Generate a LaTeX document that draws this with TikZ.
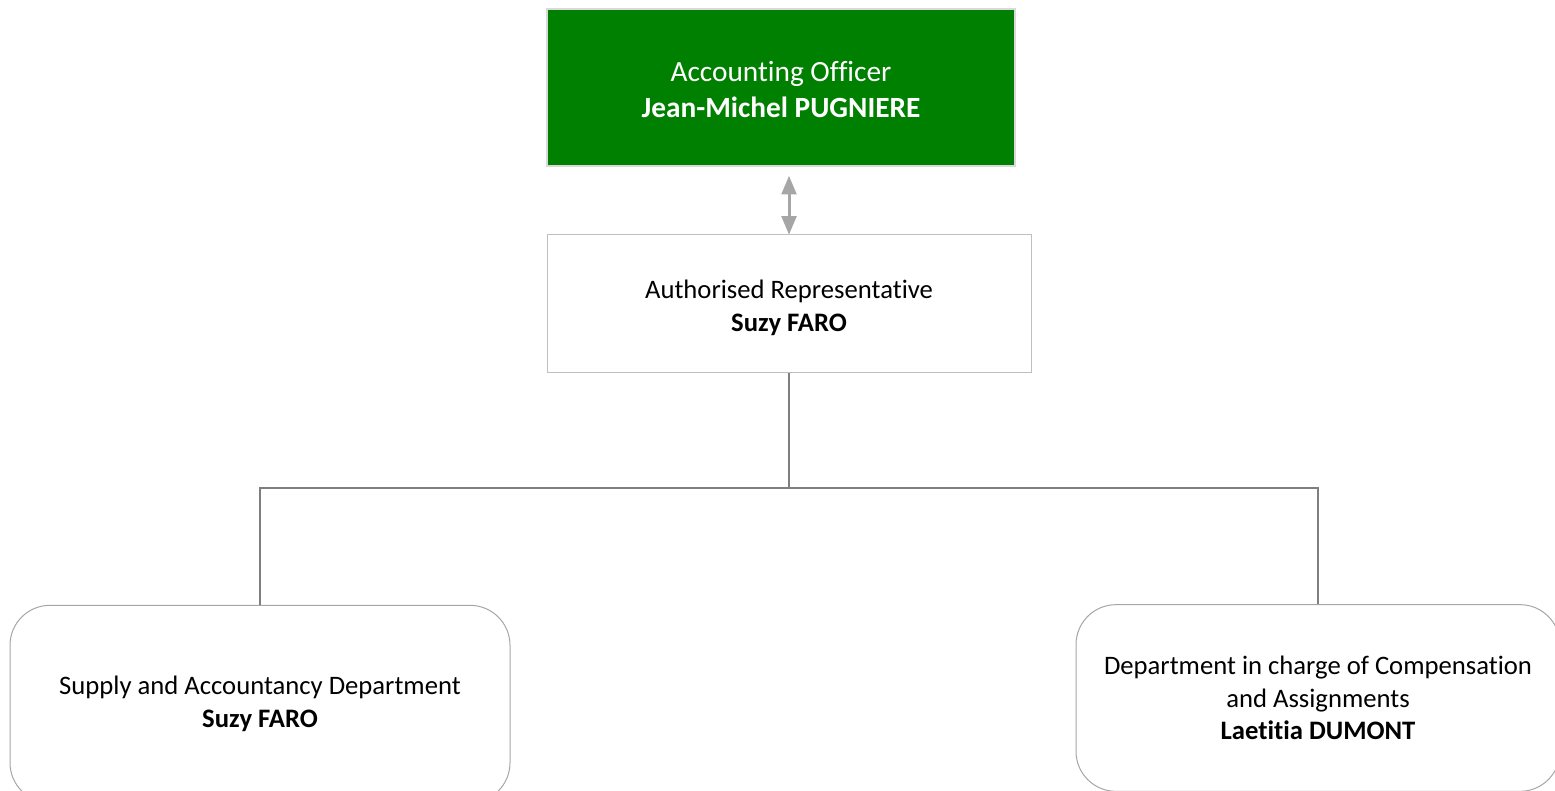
\documentclass[tikz,border=0pt]{standalone}
\usepackage{fontspec}
\setmainfont[Ligatures=NoCommon]{Carlito}
\usepackage{tikz}
\usetikzlibrary{arrows}

\definecolor{officergreen}{HTML}{008000}
\definecolor{linegray}{HTML}{7F7F7F}
\definecolor{arrowgray}{HTML}{A6A6A6}

\begin{document}
\begin{tikzpicture}[x=0.75pt,y=-0.75pt]

            \clip (0,0) rectangle (1555,791);

            \node (officer) at (781,87.5) [draw=black!15, line width=1.5pt, fill=officergreen,
            text=white, minimum width=351pt, minimum height=117.75pt, align=center,
            font=\fontsize{22}{27}\selectfont]
            {\rule{0pt}{17.8pt}Accounting Officer\\ \textbf{Jean-Michel PUGNIERE}};

            \node (rep) at (789,303.5) [draw=black!25, line width=0.75pt, fill=white,
            minimum width=363pt, minimum height=102.75pt, align=center,
            font=\fontsize{20}{24.5}\selectfont]
            {\rule{0pt}{20pt}Authorised Representative\\ \textbf{Suzy FARO}};

            \node (supply) at (260,704) [draw=arrowgray, line width=0.75pt, rounded corners=30pt,
            minimum width=375pt, minimum height=148pt, align=center,
            font=\fontsize{20}{24.5}\selectfont]
            {Supply and Accountancy Department\\ \textbf{Suzy FARO}};

            \node (comp) at (1318,698) [draw=arrowgray, line width=0.75pt, rounded corners=30pt,
            minimum width=363pt, minimum height=140pt, align=center,
            font=\fontsize{20}{24.5}\selectfont]
            {Department in charge of Compensation\\ and Assignments\\ \textbf{Laetitia DUMONT}};

            \draw [arrowgray, line width=2.25pt, arrows={triangle 45-triangle 45}]
            ([yshift=-6.75pt]officer.south -| rep.north) -- (rep.north);

            \coordinate (bus) at (789,488);
            \draw [linegray, line width=0.9pt] (rep.south) -- (bus);
            \draw [linegray, line width=0.9pt] (supply.north) |- (bus) -| (comp.north);

            \end{tikzpicture}
\end{document}
